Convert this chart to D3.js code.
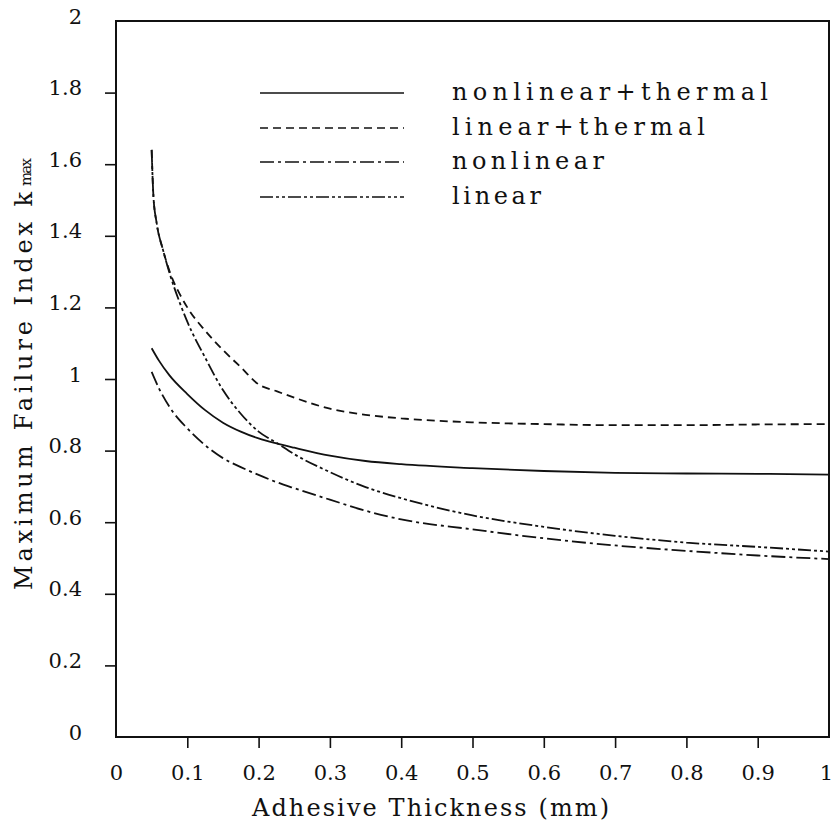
<!DOCTYPE html>
<html>
<head>
<meta charset="utf-8">
<script src="https://cdn.jsdelivr.net/npm/d3@7"></script>
<style>
  html, body { margin: 0; padding: 0; background: #fff; }
  svg { display: block; }
  text { font-family: "DejaVu Serif", "Liberation Serif", serif; fill: #111; }
</style>
</head>
<body>
<svg id="chart" width="834" height="831"></svg>
<script>
// ---- Data ----
const seriesNames = ["nonlinear+thermal", "linear+thermal", "nonlinear", "linear"];

const thicknessA = [0.05, 0.06, 0.075, 0.1, 0.125, 0.15, 0.175, 0.2, 0.225, 0.25, 0.3, 0.35, 0.4, 0.5, 0.6, 0.7, 0.8, 0.9, 1.0];
const thicknessB = [0.05, 0.0525, 0.057, 0.066, 0.076, 0.09, 0.1, 0.125, 0.15, 0.175, 0.2, 0.225, 0.25, 0.3, 0.35, 0.4, 0.5, 0.6, 0.7, 0.8, 0.9, 1.0];

const nonlinearThermal = [1.086, 1.052, 1.010, 0.958, 0.913, 0.878, 0.853, 0.834, 0.820, 0.808, 0.786, 0.771, 0.762, 0.751, 0.743, 0.738, 0.736, 0.735, 0.733];
const nonlinear        = [1.020, 0.975, 0.922, 0.862, 0.815, 0.779, 0.754, 0.732, 0.712, 0.695, 0.663, 0.632, 0.608, 0.580, 0.555, 0.535, 0.520, 0.507, 0.497];
const linearThermal    = [1.640, 1.510, 1.436, 1.360, 1.296, 1.235, 1.200, 1.135, 1.081, 1.033, 0.985, 0.966, 0.948, 0.917, 0.900, 0.890, 0.879, 0.874, 0.871, 0.871, 0.873, 0.874];
const linear           = [1.640, 1.510, 1.436, 1.360, 1.290, 1.210, 1.160, 1.060, 0.969, 0.903, 0.853, 0.822, 0.790, 0.740, 0.698, 0.667, 0.619, 0.587, 0.562, 0.543, 0.531, 0.518];

const xTicks = [0, 0.1, 0.2, 0.3, 0.4, 0.5, 0.6, 0.7, 0.8, 0.9, 1];
const xTickLabels = ["0", "0.1", "0.2", "0.3", "0.4", "0.5", "0.6", "0.7", "0.8", "0.9", "1"];
const yTicks = [0, 0.2, 0.4, 0.6, 0.8, 1, 1.2, 1.4, 1.6, 1.8, 2];
const yTickLabels = ["0", "0.2", "0.4", "0.6", "0.8", "1", "1.2", "1.4", "1.6", "1.8", "2"];

// ---- Layout ----
const svg = d3.select("#chart");
const plotLeft = 116, plotRight = 829, plotTop = 21, plotBottom = 737;
const x = d3.scaleLinear().domain([0, 1]).range([plotLeft, plotRight]);
const y = d3.scaleLinear().domain([0, 2]).range([plotBottom, plotTop]);

const series = [
  { name: seriesNames[0], xs: thicknessA, ys: nonlinearThermal, dash: null },
  { name: seriesNames[1], xs: thicknessB, ys: linearThermal, dash: "8,5" },
  { name: seriesNames[2], xs: thicknessA, ys: nonlinear, dash: "14,4,3,4" },
  { name: seriesNames[3], xs: thicknessB, ys: linear, dash: "13,3,3,3,3,3" }
];

// helper: stretch a text's visible width to a target via letter-spacing
function fitWidth(sel, target) {
  const node = sel.node();
  const n = sel.text().length;
  const natural = node.getComputedTextLength();
  if (n > 1) sel.style("letter-spacing", ((target - natural) / (n - 1)) + "px");
  return sel;
}

// frame
svg.append("rect")
  .attr("x", plotLeft).attr("y", plotTop)
  .attr("width", plotRight - plotLeft).attr("height", plotBottom - plotTop)
  .attr("fill", "none").attr("stroke", "#111").attr("stroke-width", 2);

// x axis
const xAxis = d3.axisBottom(x).tickValues(xTicks).tickSize(11)
  .tickFormat((d, i) => xTickLabels[i]);
const gx = svg.append("g").attr("transform", `translate(0,${plotBottom})`).call(xAxis);
gx.select(".domain").remove();
gx.selectAll(".tick line").attr("stroke", "#111").attr("stroke-width", 1.6)
  .attr("display", d => (d === 0 || d === 1) ? "none" : null);
gx.selectAll(".tick text").attr("y", 43).attr("dy", 0)
  .attr("x", d => d === 1 ? -3 : 0)
  .style("font-family", "DejaVu Serif").style("font-size", "21px").attr("fill", "#111");

// y axis
const yAxis = d3.axisLeft(y).tickValues(yTicks).tickSize(11)
  .tickFormat((d, i) => yTickLabels[i]);
const gy = svg.append("g").attr("transform", `translate(${plotLeft},0)`).call(yAxis);
gy.select(".domain").remove();
gy.selectAll(".tick line").attr("stroke", "#111").attr("stroke-width", 1.6)
  .attr("display", d => (d === 0 || d === 2) ? "none" : null);
gy.selectAll(".tick text").attr("x", -34).attr("dy", 0).attr("y", 2)
  .style("font-family", "DejaVu Serif").style("font-size", "21px").attr("fill", "#111");

// curves
const line = d3.line().curve(d3.curveMonotoneX);
series.forEach(s => {
  const pts = s.xs.map((t, i) => [x(t), y(s.ys[i])]);
  svg.append("path")
    .attr("d", line(pts))
    .attr("fill", "none")
    .attr("stroke", "#111")
    .attr("stroke-width", 1.8)
    .attr("stroke-dasharray", s.dash);
});

// legend
const legendY = [93, 128, 162, 197];
const legendWidths = [316, 253, 152, 89];
series.forEach((s, i) => {
  svg.append("line")
    .attr("x1", 260).attr("x2", 404)
    .attr("y1", legendY[i]).attr("y2", legendY[i])
    .attr("stroke", "#111").attr("stroke-width", 1.5)
    .attr("stroke-dasharray", s.dash);
  const t = svg.append("text")
    .attr("x", 452).attr("y", legendY[i] + 7)
    .style("font-size", "24px")
    .text(s.name);
  fitWidth(t, legendWidths[i]);
});

// axis titles
const xt = svg.append("text")
  .attr("x", 252).attr("y", 816)
  .style("font-size", "24px")
  .text("Adhesive Thickness (mm)");
fitWidth(xt, 357);

const yt = svg.append("text")
  .attr("transform", "translate(32,590) rotate(-90)")
  .style("font-size", "24px")
  .text("Maximum Failure Index k");
fitWidth(yt, 398);
const ytEnd = 590 - yt.node().getBBox().width;
const sub = svg.append("text")
  .attr("transform", `translate(31,${ytEnd - 2}) rotate(-90)`)
  .style("font-size", "15px")
  .text("max");
fitWidth(sub, 28);
</script>
</body>
</html>
